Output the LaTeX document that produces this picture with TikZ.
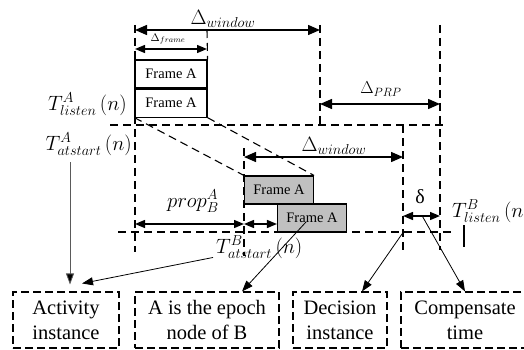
\documentclass[tikz,border=0pt]{standalone}
\usepackage{fontspec}
\setmainfont{Liberation Serif}
\definecolor{framegray}{RGB}{192,192,192}
\definecolor{pointergray}{RGB}{90,90,90}
\usetikzlibrary{arrows.meta}
\usetikzlibrary{positioning}

\begin{document}
\begin{tikzpicture}[x=1pt,y=-1pt,
  framebox/.style={draw,line width=1.1pt,minimum width=72pt,minimum height=28pt,inner sep=0pt,font=\fontsize{14.5}{16}\selectfont},
  infobox/.style={draw,line width=1.1pt,dash pattern=on 8pt off 4pt,align=center,minimum height=56pt,inner sep=0pt,font=\fontsize{20.5}{25}\selectfont},
  mathlabel/.style={inner sep=0pt,font=\fontsize{21}{22}\selectfont},
  guide/.style={line width=1.1pt,dash pattern=on 8pt off 5pt},
  dimline/.style={{Triangle[length=12pt,width=10pt]}-{Triangle[length=12pt,width=10pt]},line width=1.4pt},
  smalldim/.style={dimline,{Triangle[length=10pt,width=8pt]}-{Triangle[length=10pt,width=8pt]}},
  pointer/.style={-{Triangle[length=11pt,width=8pt]},line width=0.8pt}]
  \useasboundingbox (0,0) rectangle (524,350);

  \node[framebox] (fa1) at (171,74) {Frame A};
  \node[framebox,below=0pt of fa1] (fa2) {Frame A};
  \node[framebox,fill=framegray,minimum width=69pt] (fb1) at (279,190) {Frame A};
  \node[framebox,fill=framegray,minimum width=69pt] (fb2) at (312,218) {Frame A};

  \node[mathlabel,anchor=east] (tAlisten) at (127,104) {$T^A_{listen}\,(n)$};
  \node[mathlabel,anchor=east] (tAstart) at (132,144) {$T^A_{atstart}\,(n)$};
  \node[mathlabel,anchor=west] (tBstart) at (216,247) {$T^B_{atstart}\,(n)$};
  \node[mathlabel,anchor=west] (tBlisten) at (452,211) {$T^B_{listen}\,(n)$};

  \node[mathlabel,font=\fontsize{19.5}{20}\selectfont] (dwin1) at (223,19) {$\Delta_{window}$};
  \node[mathlabel,font=\fontsize{11}{12}\selectfont] (dframe) at (168,39) {$\Delta_{frame}$};
  \node[mathlabel,font=\fontsize{18.5}{20}\selectfont] (dprp) at (381,89) {$\Delta_{PRP}$};
  \node[mathlabel,font=\fontsize{19.5}{20}\selectfont] (dwin2) at (334,146) {$\Delta_{window}$};
  \node[mathlabel,font=\fontsize{20}{20}\selectfont] (prop) at (193,201) {$prop^A_B$};
  \node[mathlabel,font=\fontsize{20}{20}\selectfont] (dlt) at (420,197) {δ};

  \node[infobox,minimum width=106pt] (act) at (66,320) {Activity\\instance};
  \node[infobox,minimum width=144pt] (epoch) at (207,320) {A is the epoch\\node of B};
  \node[infobox,minimum width=94pt] (dec) at (340,320) {Decision\\instance};
  \node[infobox,minimum width=128pt] (comp) at (465,320) {Compensate\\time};

  \coordinate (ga) at (135,25);
  \coordinate (gb) at (207,30);
  \coordinate (gc) at (320,25);
  \coordinate (gd) at (440,25);
  \coordinate (ge) at (244,148);
  \coordinate (gf) at (403,125);
  \coordinate (tAfoot) at (70,162);

  \draw[guide] (ga) -- +(0,227);
  \draw[guide] (gb) -- (fa1.north east);
  \draw[guide] (gc) -- +(0,100);
  \draw[guide] (gd) -- +(0,225);
  \draw[guide] (ge) -- +(0,108);
  \draw[guide] (gf) -- +(0,125);
  \draw[guide] (110,125) -- (447,125);
  \draw[guide] (118,232) -- (455,232);
  \draw[guide] (fa2.south west) -- (fb1.north west);
  \draw[guide] (fa2.south east) -- (fb1.north east);
  \draw[line width=1.3pt] (464,225) -- (464,247);

  \draw[dimline] (ga |- 0,30) -- (gc |- 0,30);
  \draw[smalldim] (ga |- 0,49) -- (gb |- 0,49);
  \draw[dimline] (gc |- 0,104) -- (gd |- 0,104);
  \draw[dimline] (ge |- 0,157) -- (gf |- 0,157);
  \draw[smalldim] (ga |- 0,224) -- (ge |- 0,224);
  \draw[smalldim] (ge |- 0,224) -- (fb2.south west |- 0,224);
  \draw[smalldim] (gf |- 0,216) -- node[coordinate,pos=.52] (dmid) {} (gd |- 0,216);

  \draw[pointer,draw=pointergray,-{Triangle[length=11pt,width=8pt,fill=black]}] (tAfoot) -- ([xshift=4pt,yshift=7pt]act.north);
  \draw[pointer] ([xshift=-3pt,yshift=1pt]tBstart.south west) -- ([xshift=16pt,yshift=8pt]act.north);
  \draw[pointer] ([xshift=-6pt,yshift=-4pt]fb2.center) -- ([xshift=35pt]epoch.north);
  \draw[pointer] (gf |- fb2.south) -- ([xshift=22pt]dec.north);
  \draw[pointer] (dmid) -- (comp.north);
\end{tikzpicture}
\end{document}
